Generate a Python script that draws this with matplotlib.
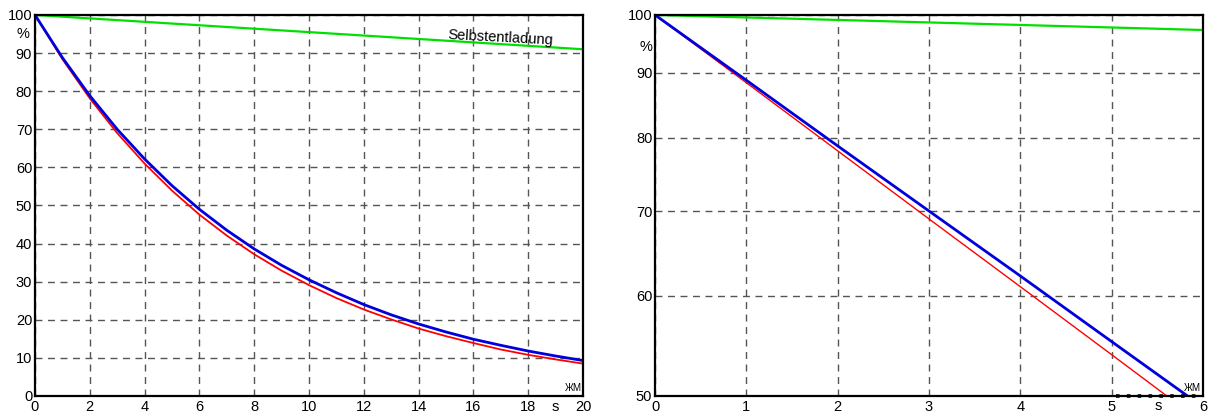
import numpy as np
import matplotlib.pyplot as plt
from matplotlib.ticker import FixedLocator, NullLocator

plt.rcParams['font.family'] = ['Liberation Sans', 'DejaVu Sans']

# Zeit in s
t = [0, 1, 2, 3, 4, 5, 6, 7, 8, 9, 10, 11, 12, 13, 14, 15, 16, 17, 18, 19, 20]
# Ladung in %
blau = [100, 88.8, 78.8, 70.0, 62.2, 55.2, 49.0, 43.5, 38.6, 34.3, 30.5,
        27.1, 24.0, 21.3, 18.9, 16.8, 14.9, 13.3, 11.8, 10.5, 9.3]
rot = [100, 88.4, 78.1, 69.0, 61.0, 53.9, 47.6, 42.1, 37.2, 32.9, 29.1,
       25.7, 22.7, 20.1, 17.7, 15.7, 13.9, 12.2, 10.8, 9.6, 8.5]
selbst = [100, 99.55, 99.1, 98.65, 98.2, 97.75, 97.3, 96.85, 96.4, 95.95, 95.5,
          95.05, 94.6, 94.15, 93.7, 93.25, 92.8, 92.35, 91.9, 91.45, 91.0]

t_kurz = t[:7]
blau_kurz = blau[:7]
rot_kurz = rot[:7]
selbst_kurz = selbst[:7]

fig = plt.figure(figsize=(12.11, 4.17), dpi=100)
ax1 = fig.add_axes([0.0289, 0.0504, 0.4525, 0.9137])
ax2 = fig.add_axes([0.5409, 0.0504, 0.4525, 0.9137])

grid_kw = dict(color='#555555', linestyle=(0, (5, 4)), linewidth=1.0)

# linkes Diagramm
ax1.plot(t, selbst, color='#00e000', linewidth=1.6)
ax1.plot(t, rot, color='red', linewidth=1.3)
ax1.plot(t, blau, color='#0000dd', linewidth=2.0)
ax1.set_xlim(0, 20)
ax1.set_ylim(0, 100)
ax1.set_xticks(range(0, 21, 2))
ax1.set_yticks(range(0, 101, 10))
ax1.text(17.0, 94.1, 'Selbstentladung', fontsize=10.5, rotation=-3,
         ha='center', va='center')
ax1.text(-0.45, 95.0, '%', fontsize=10.5, ha='center', va='center')
ax1.text(19.0, -3.0, 's', fontsize=10.5, ha='center', va='center')
ax1.text(19.95, 0.8, 'ЖM', fontsize=7, ha='right', va='bottom')

# rechtes Diagramm (logarithmisch)
ax2.plot(t_kurz, selbst_kurz, color='#00e000', linewidth=1.6)
ax2.plot(t_kurz, rot_kurz, color='red', linewidth=1.0)
ax2.plot(t_kurz, blau_kurz, color='#0000dd', linewidth=2.0)
ax2.set_yscale('log')
ax2.set_xlim(0, 6)
ax2.set_ylim(50, 100)
ax2.set_xticks(range(0, 7))
ax2.yaxis.set_major_locator(FixedLocator([50, 60, 70, 80, 90, 100]))
ax2.yaxis.set_minor_locator(NullLocator())
ax2.set_yticklabels(['50', '60', '70', '80', '90', '100'])
ax2.plot([5.05, 5.95], [50, 50], color='black', linestyle=(0, (1, 2)),
         linewidth=2.6, clip_on=False, zorder=5)
ax2.text(-0.1, 94.3, '%', fontsize=10.5, ha='center', va='center')
ax2.text(5.51, 49.1, 's', fontsize=10.5, ha='center', va='center')
ax2.text(5.98, 50.3, 'ЖM', fontsize=7, ha='right', va='bottom')

for ax in (ax1, ax2):
    ax.grid(True, **grid_kw)
    ax.tick_params(length=0, labelsize=10.5, pad=2)
    ax.tick_params(axis='x', pad=3)
    for sp in ax.spines.values():
        sp.set_linewidth(1.6)
        sp.set_color('black')

fig.savefig('out.png', dpi=100)
